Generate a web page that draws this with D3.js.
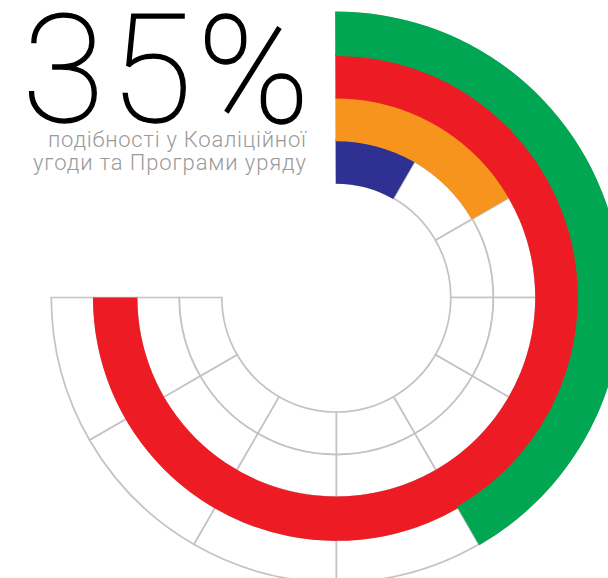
<!DOCTYPE html>
<html>
<head>
<meta charset="utf-8">
<script src="https://cdn.jsdelivr.net/npm/d3@7"></script>
<style>
  body { margin: 0; background: #fff; }
  svg { display: block; }
</style>
</head>
<body>
<svg id="chart" width="608" height="578"></svg>
<script>
// Rings from the centre outwards, each split into equal 30° cells over a 270° sweep
const rings = ["ring1", "ring2", "ring3", "ring4"];
const ringColors = ["#2e3192", "#f7941d", "#ed1c24", "#00a651"];
const filledSegments = [1, 2, 9, 5];
const segmentCount = 9;

const headline = "35%";
const captionLines = ["подібності у Коаліційної", "угоди та Програми уряду"];

const svg = d3.select("#chart");
const cx = 336.3, cy = 297.5;

const radius = d3.scaleLinear().domain([0, rings.length]).range([114.5, 285]);
const angle = d3.scaleLinear().domain([0, segmentCount]).range([0, 1.5 * Math.PI]);

const g = svg.append("g").attr("transform", `translate(${cx},${cy})`);
const arc = d3.arc();

// grey cell grid
const cells = [];
rings.forEach((r, i) => {
  d3.range(segmentCount).forEach(j => cells.push({ ring: i, seg: j }));
});
g.append("g").selectAll("path")
  .data(cells)
  .join("path")
  .attr("d", d => arc({
    innerRadius: radius(d.ring),
    outerRadius: radius(d.ring + 1),
    startAngle: angle(d.seg),
    endAngle: angle(d.seg + 1)
  }))
  .attr("fill", "#fff")
  .attr("stroke", "#c3c3c3")
  .attr("stroke-width", 1.7);

// coloured progress bands
g.append("g").selectAll("path")
  .data(rings.map((r, i) => ({ ring: i, value: filledSegments[i], color: ringColors[i] })))
  .join("path")
  .attr("d", d => arc({
    innerRadius: radius(d.ring) - 0.8,
    outerRadius: radius(d.ring + 1) + 1,
    startAngle: -0.004,
    endAngle: angle(d.value)
  }))
  .attr("fill", d => d.color);

// headline figure and caption
svg.append("text")
  .attr("x", 22)
  .attr("y", 122)
  .attr("font-family", "Roboto")
  .attr("font-weight", 100)
  .attr("font-size", 151)
  .attr("letter-spacing", 5)
  .attr("fill", "#000")
  .attr("stroke", "#000")
  .attr("stroke-width", 1.3)
  .text(headline);

const captionWidths = [258, 273];
svg.append("g").selectAll("text")
  .data(captionLines)
  .join("text")
  .attr("x", 306)
  .attr("y", (d, i) => 146.5 + i * 23.5)
  .attr("text-anchor", "end")
  .attr("font-family", "Roboto")
  .attr("font-weight", 300)
  .attr("font-size", 22)
  .attr("textLength", (d, i) => captionWidths[i])
  .attr("lengthAdjust", "spacing")
  .attr("fill", "#9a9a9a")
  .text(d => d);
</script>
</body>
</html>
